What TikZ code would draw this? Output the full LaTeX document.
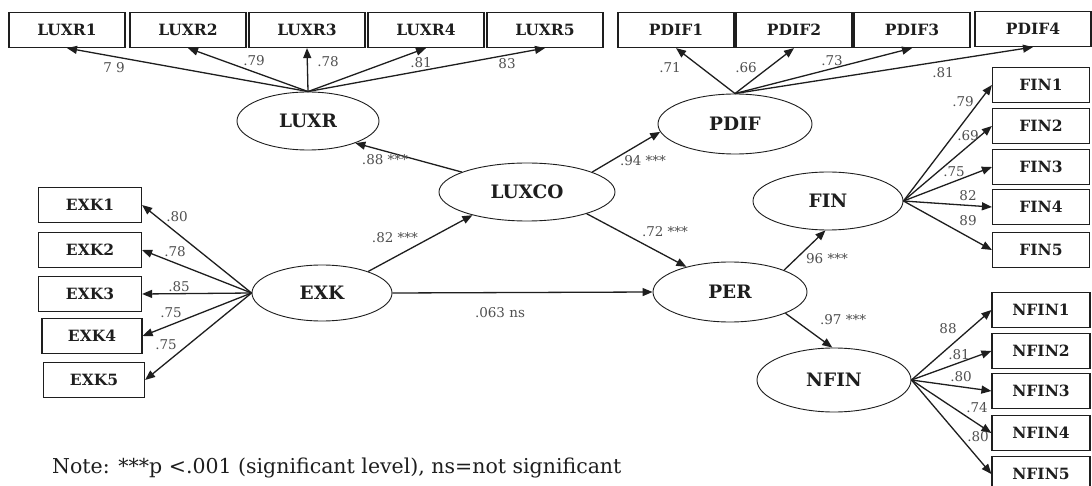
\documentclass[tikz,border=0pt]{standalone}
\usepackage{fontspec}
\setmainfont{DejaVu Serif}
\usetikzlibrary{arrows.meta,positioning,shapes.geometric}
\definecolor{ink}{RGB}{30,30,30}
\definecolor{num}{RGB}{80,80,80}
\tikzset{
  item/.style={draw=ink,line width=1.2pt,minimum width=116pt,minimum height=35pt,inner sep=0pt,
    font=\fontsize{15.5}{15.5}\selectfont\bfseries,text=ink},
  lat/.style={ellipse,draw=ink,line width=0.9pt,inner sep=0pt,
    font=\fontsize{18.5}{18.5}\selectfont\bfseries,text=ink},
  arr/.style={-{Triangle[length=10pt,width=8pt]},line width=1.3pt,ink},
  coef/.style={font=\fontsize{13.5}{13.5}\selectfont,text=num,inner sep=0pt},
}

\begin{document}
\begin{tikzpicture}[x=1pt,y=-1pt]
\useasboundingbox (0,0) rectangle (1092,486);
\fill[white] (0,0) rectangle (1092,486);
% observed indicators
\node[item] (LUXR1) at (67,30) {LUXR1};
\node[item] (LUXR2) at (188,30) {LUXR2};
\node[item] (LUXR3) at (307,30) {LUXR3};
\node[item] (LUXR4) at (426,30) {LUXR4};
\node[item] (LUXR5) at (545,30) {LUXR5};
\node[item] (PDIF1) at (676,30) {PDIF1};
\node[item] (PDIF2) at (794,30) {PDIF2};
\node[item] (PDIF3) at (912,30) {PDIF3};
\node[item] (PDIF4) at (1033,29) {PDIF4};
\node[item,minimum width=103pt] (EXK1) at (90,205) {EXK1};
\node[item,minimum width=103pt] (EXK2) at (90,250) {EXK2};
\node[item,minimum width=103pt] (EXK3) at (90,294) {EXK3};
\node[item,minimum width=100pt] (EXK4) at (92,336) {EXK4};
\node[item,minimum width=101pt] (EXK5) at (94,380) {EXK5};
\node[item,minimum width=97pt] (FIN1) at (1041,85) {FIN1};
\node[item,minimum width=97pt] (FIN2) at (1041,126) {FIN2};
\node[item,minimum width=97pt] (FIN3) at (1041,167) {FIN3};
\node[item,minimum width=97pt] (FIN4) at (1041,207) {FIN4};
\node[item,minimum width=97pt] (FIN5) at (1041,250) {FIN5};
\node[item,minimum width=98pt] (NFIN1) at (1041,310) {NFIN1};
\node[item,minimum width=98pt] (NFIN2) at (1041,351) {NFIN2};
\node[item,minimum width=98pt] (NFIN3) at (1041,391) {NFIN3};
\node[item,minimum width=98pt] (NFIN4) at (1041,433) {NFIN4};
\node[item,minimum width=98pt] (NFIN5) at (1041,474) {NFIN5};
% latent constructs
\node[lat,minimum width=142pt,minimum height=58pt] (LUXR) at (308,121) {LUXR};
\node[lat,minimum width=154pt,minimum height=60pt] (PDIF) at (735,124) {PDIF};
\node[lat,minimum width=176pt,minimum height=58pt] (LUXCO) at (527,192) {LUXCO};
\node[lat,minimum width=140pt,minimum height=56pt] (EXK) at (322,293) {EXK};
\node[lat,minimum width=154pt,minimum height=60pt] (PER) at (730,292) {PER};
\node[lat,minimum width=150pt,minimum height=58pt] (FIN) at (828,201) {FIN};
\node[lat,minimum width=154pt,minimum height=64pt] (NFIN) at (834,380) {NFIN};
% loadings
\draw[arr] (LUXR.north) -- (LUXR1.south);
\draw[arr] (LUXR.north) -- (LUXR2.south);
\draw[arr] (LUXR.north) -- (LUXR3.south);
\draw[arr] (LUXR.north) -- (LUXR4.south);
\draw[arr] (LUXR.north) -- (LUXR5.south);
\draw[arr] (PDIF.north) -- (PDIF1.south);
\draw[arr] (PDIF.north) -- (PDIF2.south);
\draw[arr] (PDIF.north) -- (PDIF3.south);
\draw[arr] (PDIF.north) -- (PDIF4.south);
\draw[arr] (EXK.west) -- (EXK1.east);
\draw[arr] (EXK.west) -- (EXK2.east);
\draw[arr] (EXK.west) -- (EXK3.east);
\draw[arr] (EXK.west) -- (EXK4.east);
\draw[arr] (EXK.west) -- (EXK5.east);
\draw[arr] (FIN.east) -- (FIN1.west);
\draw[arr] (FIN.east) -- (FIN2.west);
\draw[arr] (FIN.east) -- (FIN3.west);
\draw[arr] (FIN.east) -- (FIN4.west);
\draw[arr] (FIN.east) -- (FIN5.west);
\draw[arr] (NFIN.east) -- (NFIN1.west);
\draw[arr] (NFIN.east) -- (NFIN2.west);
\draw[arr] (NFIN.east) -- (NFIN3.west);
\draw[arr] (NFIN.east) -- (NFIN4.west);
\draw[arr] (NFIN.east) -- (NFIN5.west);
% structural paths
\draw[arr] (LUXCO.163) -- (LUXR.-25);
\draw[arr] (LUXCO.17) -- (PDIF.186);
\draw[arr] (EXK.25) -- (LUXCO.203);
\draw[arr] (LUXCO.-20) -- (PER.150);
\draw[arr] (EXK.east) -- (PER.west);
\draw[arr] (PER.22) -- (FIN.-95);
\draw[arr] (PER.-21) -- (NFIN.93);
% coefficients
\node[coef] (cL1) at (114,68) {7 9};
\node[coef] (cL2) at (254,61) {.79};
\node[coef] (cL3) at (328,62) {.78};
\node[coef] (cL4) at (421,63) {.81};
\node[coef] (cL5) at (507,64) {83};
\node[coef] (cP1) at (670,68) {.71};
\node[coef] (cP2) at (746,68) {.66};
\node[coef] (cP3) at (832,61) {.73};
\node[coef] (cP4) at (943,73) {.81};
\node[coef] (cE1) at (177,217) {.80};
\node[coef] (cE2) at (175,252) {.78};
\node[coef] (cE3) at (179,287) {.85};
\node[coef] (cE4) at (171,313) {.75};
\node[coef] (cE5) at (166,345) {.75};
\node[coef] (cF1) at (963,102) {.79};
\node[coef] (cF2) at (968,136) {.69};
\node[coef] (cF3) at (954,172) {.75};
\node[coef] (cF4) at (968,196) {82};
\node[coef] (cF5) at (968,221) {89};
\node[coef] (cN1) at (948,329) {88};
\node[coef] (cN2) at (959,355) {.81};
\node[coef] (cN3) at (961,377) {.80};
\node[coef] (cN4) at (977,408) {.74};
\node[coef] (cN5) at (978,437) {.80};
\node[coef] (cLR) at (385,160) {.88 ***};
\node[coef] (cPD) at (643,161) {.94 ***};
\node[coef] (cEL) at (395,238) {.82 ***};
\node[coef] (cLP) at (665,232) {.72 ***};
\node[coef] (cEP) at (500,313) {.063 ns};
\node[coef] (cPF) at (827,259) {96 ***};
\node[coef] (cPN) at (843,320) {.97 ***};
\node[anchor=west,inner sep=0pt,font=\fontsize{20.5}{20.5}\selectfont,text=ink] (note) at (52,468)
  {Note: ***p <.001 (significant level), ns=not significant};
\end{tikzpicture}
\end{document}
